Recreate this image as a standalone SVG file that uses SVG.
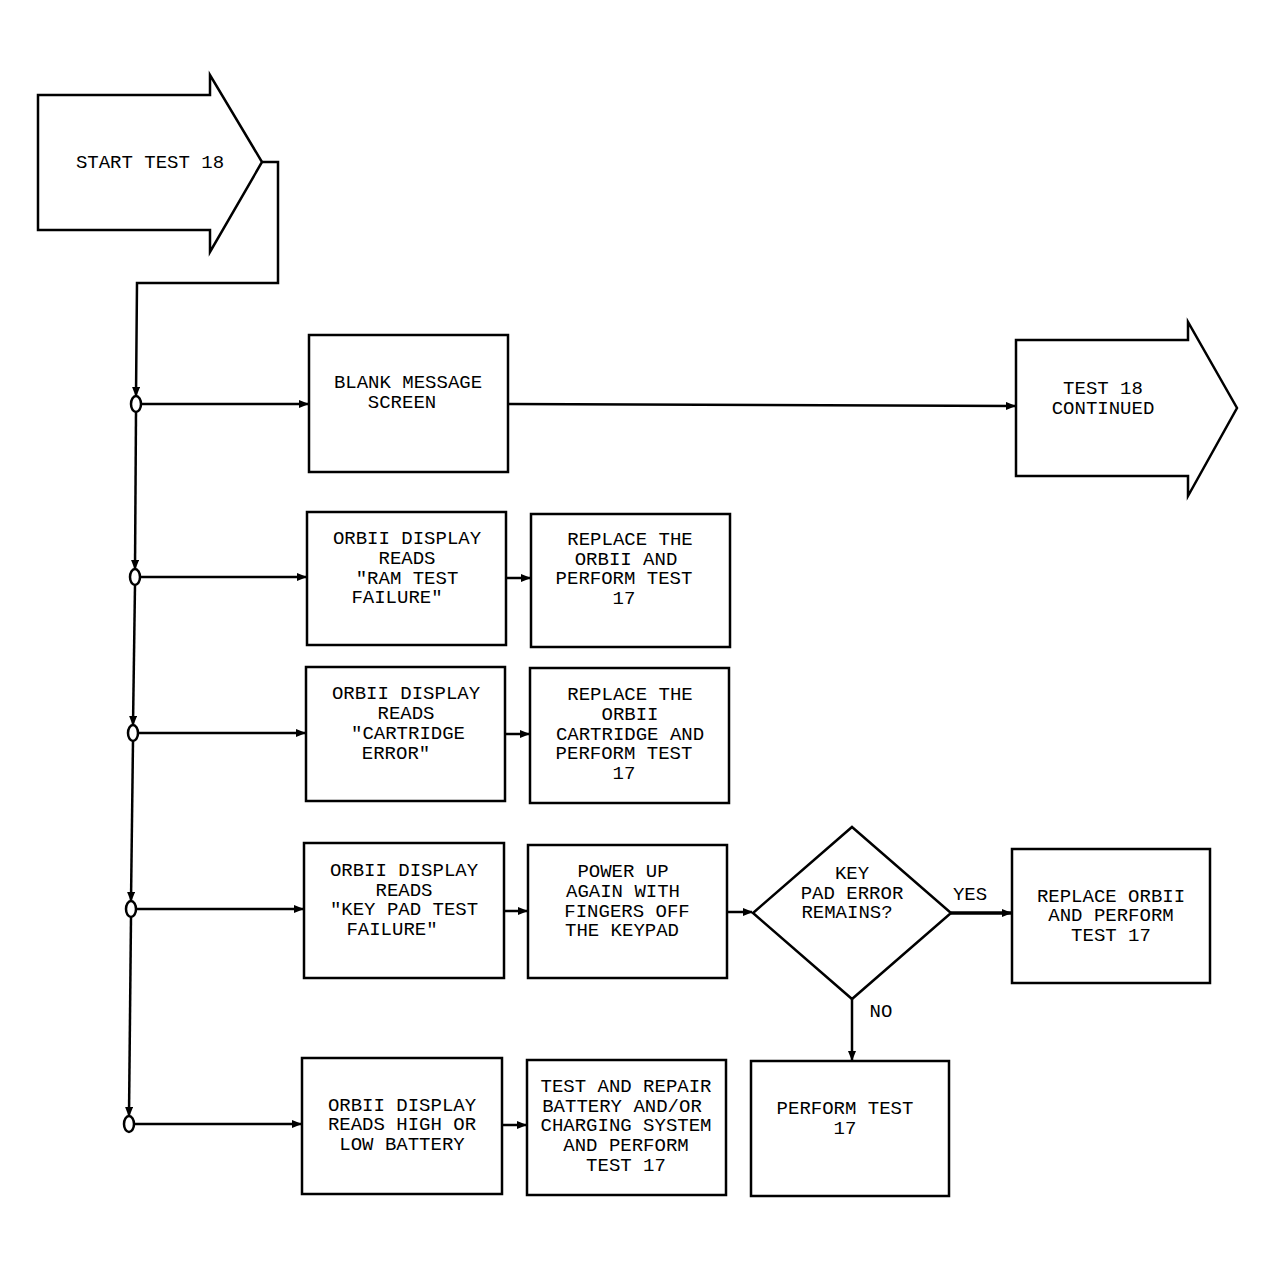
<svg xmlns="http://www.w3.org/2000/svg" width="1275" height="1274" viewBox="0 0 1275 1274">
<style>
.s{fill:none;stroke:#000;stroke-width:2.5}
.b{fill:#fff;stroke:#000;stroke-width:2.5}
.o{fill:#fff;stroke:#000;stroke-width:2.5}
text{font-family:"Liberation Mono",monospace;font-size:19px;text-anchor:middle;fill:#000}
</style>
<defs>
<marker id="a" markerWidth="10" markerHeight="8" refX="9" refY="4" orient="auto" markerUnits="userSpaceOnUse"><path d="M0,0 L10,4 L0,8 Z" fill="#000"/></marker>
</defs>
<rect width="1275" height="1274" fill="#fff"/>
<g id="connectors">
<path class="s" d="M262,162 H278 V283 H137 L136,396" marker-end="url(#a)"/>
<path class="s" d="M136,412 L135,569" marker-end="url(#a)"/>
<path class="s" d="M135,585 L133,725" marker-end="url(#a)"/>
<path class="s" d="M133,741 L131,901" marker-end="url(#a)"/>
<path class="s" d="M131,917 L129,1116" marker-end="url(#a)"/>
<path class="s" d="M141,404 H308" marker-end="url(#a)"/>
<path class="s" d="M508,404 L1015,406" marker-end="url(#a)"/>
<path class="s" d="M140,577 H306" marker-end="url(#a)"/>
<path class="s" d="M506,578 H530" marker-end="url(#a)"/>
<path class="s" d="M138,733 H305" marker-end="url(#a)"/>
<path class="s" d="M505,734 H529" marker-end="url(#a)"/>
<path class="s" d="M136,909 H303" marker-end="url(#a)"/>
<path class="s" d="M504,911 H527" marker-end="url(#a)"/>
<path class="s" d="M727,912 H752" marker-end="url(#a)"/>
<path class="s" d="M951,913 H1011" marker-end="url(#a)" style="stroke-width:3.5"/>
<path class="s" d="M852,999 V1060" marker-end="url(#a)"/>
<path class="s" d="M134,1124 H301" marker-end="url(#a)"/>
<path class="s" d="M502,1125 H526" marker-end="url(#a)"/>
<ellipse class="o" cx="136" cy="404" rx="5" ry="8"/>
<ellipse class="o" cx="135" cy="577" rx="5" ry="8"/>
<ellipse class="o" cx="133" cy="733" rx="5" ry="8"/>
<ellipse class="o" cx="131" cy="909" rx="5" ry="8"/>
<ellipse class="o" cx="129" cy="1124" rx="5" ry="8"/>
<text x="970" y="900">YES</text>
<text x="881" y="1017">NO</text>
</g>
<g id="start"><polygon class="b" points="38,95 210,95 210,75 262,162 210,252 210,230 38,230"/><text x="150" y="168">START TEST 18</text></g>
<g id="continued"><polygon class="b" points="1016,340 1188,340 1188,322 1237,408 1188,496 1188,476 1016,476"/><text x="1103" y="394">TEST 18</text><text x="1103" y="414">CONTINUED</text></g>
<g id="blank"><rect class="b" x="309" y="335" width="199" height="137"/><text x="408" y="388">BLANK MESSAGE</text><text x="402" y="408">SCREEN</text></g>
<g id="ram"><rect class="b" x="307" y="512" width="199" height="133"/><text x="407" y="544">ORBII DISPLAY</text><text x="407" y="564">READS</text><text x="407" y="584">"RAM TEST</text><text x="397" y="603">FAILURE"</text></g>
<g id="rep1"><rect class="b" x="531" y="514" width="199" height="133"/><text x="630" y="545">REPLACE THE</text><text x="626" y="565">ORBII AND</text><text x="624" y="584">PERFORM TEST</text><text x="624" y="604">17</text></g>
<g id="cart"><rect class="b" x="306" y="667" width="199" height="134"/><text x="406" y="699">ORBII DISPLAY</text><text x="406" y="719">READS</text><text x="408" y="739">"CARTRIDGE</text><text x="396" y="759">ERROR"</text></g>
<g id="rep2"><rect class="b" x="530" y="668" width="199" height="135"/><text x="630" y="700">REPLACE THE</text><text x="630" y="720">ORBII</text><text x="630" y="740">CARTRIDGE AND</text><text x="624" y="759">PERFORM TEST</text><text x="624" y="779">17</text></g>
<g id="key"><rect class="b" x="304" y="843" width="200" height="135"/><text x="404" y="876">ORBII DISPLAY</text><text x="404" y="896">READS</text><text x="404" y="915">"KEY PAD TEST</text><text x="392" y="935">FAILURE"</text></g>
<g id="power"><rect class="b" x="528" y="845" width="199" height="133"/><text x="623" y="877">POWER UP</text><text x="623" y="897">AGAIN WITH</text><text x="627" y="917">FINGERS OFF</text><text x="622" y="936">THE KEYPAD</text></g>
<g id="diamond"><polygon class="b" points="852,827 951,913 852,999 753,913"/><text x="852" y="879">KEY</text><text x="852" y="899">PAD ERROR</text><text x="847" y="918">REMAINS?</text></g>
<g id="rep3"><rect class="b" x="1012" y="849" width="198" height="134"/><text x="1111" y="902">REPLACE ORBII</text><text x="1111" y="921">AND PERFORM</text><text x="1111" y="941">TEST 17</text></g>
<g id="perform"><rect class="b" x="751" y="1061" width="198" height="135"/><text x="845" y="1114">PERFORM TEST</text><text x="845" y="1134">17</text></g>
<g id="batt"><rect class="b" x="302" y="1058" width="200" height="136"/><text x="402" y="1111">ORBII DISPLAY</text><text x="402" y="1130">READS HIGH OR</text><text x="402" y="1150">LOW BATTERY</text></g>
<g id="repair"><rect class="b" x="527" y="1060" width="199" height="135"/><text x="626" y="1092">TEST AND REPAIR</text><text x="622" y="1112">BATTERY AND/OR</text><text x="626" y="1131">CHARGING SYSTEM</text><text x="626" y="1151">AND PERFORM</text><text x="626" y="1171">TEST 17</text></g>
</svg>
